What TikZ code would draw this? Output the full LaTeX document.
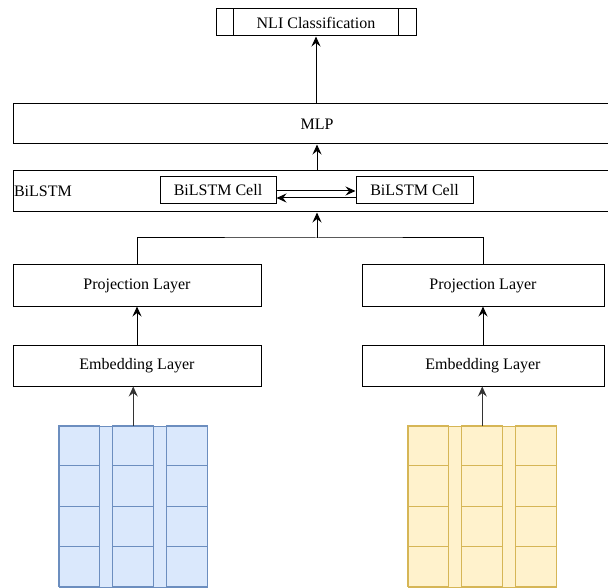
\documentclass[tikz,border=0pt]{standalone}
\usepackage{fontspec}
\setmainfont{Liberation Serif}
\usetikzlibrary{arrows.meta}
\definecolor{bluefill}{HTML}{DAE8FC}
\definecolor{blueline}{HTML}{6C8EBF}
\definecolor{yellowfill}{HTML}{FFF2CC}
\definecolor{yellowline}{HTML}{D6B656}
\tikzset{
  box/.style={draw, line width=1pt, inner sep=0pt, font=\fontsize{16}{18}\selectfont},
  arr/.style={line width=1pt, -{Stealth[length=10pt,width=9pt,inset=3.5pt]}},
  gridbox/.style={line width=1pt, inner sep=0pt, minimum width=148.5pt, minimum height=161pt}
}
\begin{document}
\begin{tikzpicture}[x=1pt, y=-1pt]
		\useasboundingbox (0,0) rectangle (608,588);
		\clip (0,0) rectangle (608,588);
		\node[box, minimum width=200pt, minimum height=27pt] (nli) at (316,22.5) {NLI Classification};
		\draw[line width=1pt] ([xshift=18pt]nli.north west) -- ([xshift=18pt]nli.south west);
		\draw[line width=1pt] ([xshift=-18pt]nli.north east) -- ([xshift=-18pt]nli.south east);
		\node[box, minimum width=608pt, minimum height=40pt] (mlp) at (317,124) {MLP};
		\node[box, minimum width=608pt, minimum height=41pt] (bilstm) at (317,191.5) {};
		\node[box, anchor=west, draw=none, inner sep=1pt] (bilstmtxt) at (bilstm.west) {BiLSTM};
		\node[box, minimum width=116pt, minimum height=27pt] (cellL) at (218,190.5) {BiLSTM Cell};
		\node[box, minimum width=117pt, minimum height=27pt] (cellR) at (414.5,190.5) {BiLSTM Cell};
		\node[box, minimum width=248pt, minimum height=41pt] (projL) at (137,285.5) {Projection Layer};
		\node[box, minimum width=242pt, minimum height=41pt] (projR) at (483,285.5) {Projection Layer};
		\node[box, minimum width=248pt, minimum height=41pt] (embL) at (137,365.5) {Embedding Layer};
		\node[box, minimum width=242pt, minimum height=41pt] (embR) at (483,365.5) {Embedding Layer};
		\node[gridbox, draw=blueline, fill=bluefill] (gridL) at (133.25,506.5) {};
		\node[gridbox, draw=yellowline, fill=yellowfill] (gridR) at (482.25,506.5) {};
		\foreach \g/\col in {gridL/blueline, gridR/yellowline}{
			\foreach \c in {0,54,108}{
				\foreach \r in {0,1,2,3}{
					\draw[draw=\col, line width=1pt] ([xshift=\c pt, yshift=-\r*40.25pt]\g.north west) rectangle ++(40.5,40.25);
				}
			}
		}
		\coordinate (merge) at (317,238);
		\draw[line width=1pt] (projL.north) |- (merge) -| (projR.north);
		\draw[arr] (merge) -- (bilstm.south);
		\draw[arr] (bilstm.north) -- (mlp.south);
		\draw[arr] (mlp.north -| nli.south) -- (nli.south);
		\draw[arr] ([yshift=-0.5pt]cellL.east) -- ([yshift=-0.5pt]cellR.west);
		\draw[arr] ([yshift=-7.5pt]cellR.west) -- ([yshift=-7.5pt]cellL.east);
		\draw[arr] (embL.north) -- (projL.south);
		\draw[arr] (embR.north) -- (projR.south);
		\draw[arr, draw=black!80] (gridL.north) -- (gridL.north |- embL.south);
		\draw[arr, draw=black!80] (gridR.north) -- (gridR.north |- embR.south);
	\end{tikzpicture}
\end{document}
